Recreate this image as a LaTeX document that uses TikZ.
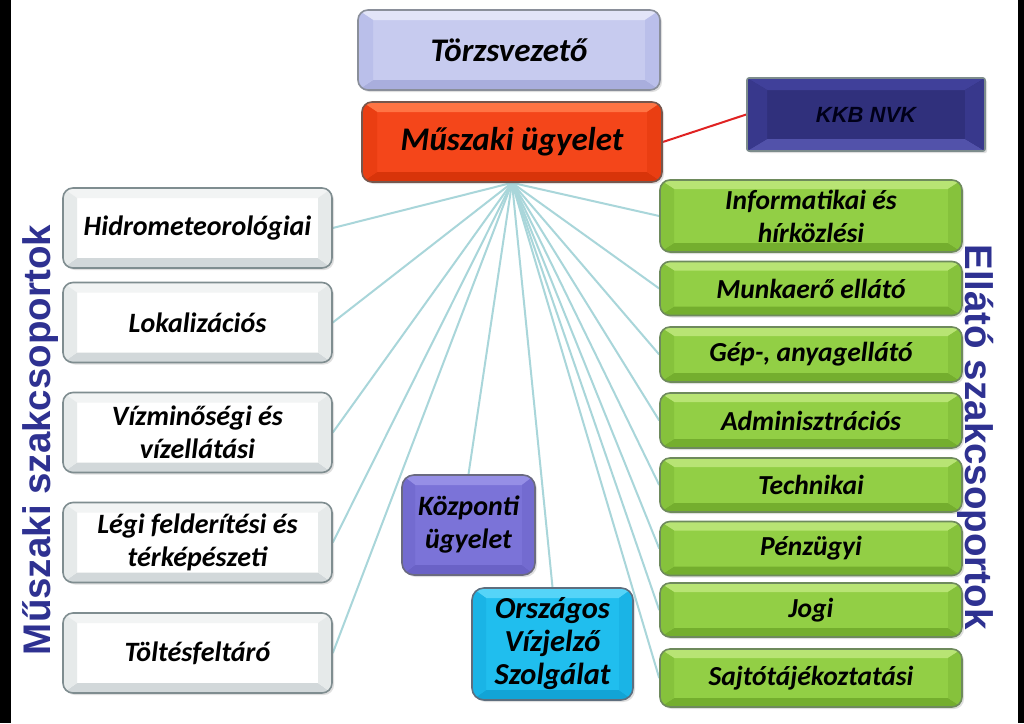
\documentclass[tikz,border=0pt]{standalone}
\usepackage{fontspec}
\setmainfont{Carlito}
\newfontfamily\arialfont{Liberation Sans}
\usetikzlibrary{backgrounds,shadows}

\definecolor{fanline}{HTML}{A9D6DA}
\definecolor{sideblue}{HTML}{2E3191}
\definecolor{wFill}{HTML}{FFFFFF}
\definecolor{wTop}{HTML}{F2F4F4}
\definecolor{wBot}{HTML}{D2D8DA}
\definecolor{wSide}{HTML}{E6EAEA}
\definecolor{wBorder}{HTML}{7F8D90}
\definecolor{gFill}{HTML}{92CF45}
\definecolor{gTop}{HTML}{B8E474}
\definecolor{gBot}{HTML}{74AE2E}
\definecolor{gSide}{HTML}{86C23C}
\definecolor{gBorder}{HTML}{6E8A5C}
\definecolor{lFill}{HTML}{C7CBEF}
\definecolor{lTop}{HTML}{E2E4F8}
\definecolor{lBot}{HTML}{A9AEDD}
\definecolor{lSide}{HTML}{BABFEA}
\definecolor{lBorder}{HTML}{8A8F9A}
\definecolor{rFill}{HTML}{F4461A}
\definecolor{rTop}{HTML}{FF7444}
\definecolor{rBot}{HTML}{D8340A}
\definecolor{rSide}{HTML}{EA3E12}
\definecolor{rBorder}{HTML}{76564C}
\definecolor{nFill}{HTML}{30307C}
\definecolor{nTop}{HTML}{40409A}
\definecolor{nBot}{HTML}{5252AA}
\definecolor{nSide}{HTML}{38388C}
\definecolor{nBorder}{HTML}{7D8C8C}
\definecolor{pFill}{HTML}{7B73D8}
\definecolor{pTop}{HTML}{968FE6}
\definecolor{pBot}{HTML}{6A62C6}
\definecolor{pSide}{HTML}{736BD0}
\definecolor{pBorder}{HTML}{6A6A80}
\definecolor{cFill}{HTML}{20BEEE}
\definecolor{cTop}{HTML}{55D4F8}
\definecolor{cBot}{HTML}{12A4D6}
\definecolor{cSide}{HTML}{1AB4E6}
\definecolor{cBorder}{HTML}{5E6E7E}
\definecolor{redline}{HTML}{E02222}

\tikzset{
  bevel/.style n args={7}{% fill, top, bottom, side, border, dx, dy
    draw=#5, line width=1.6pt, fill=#1,
    drop shadow={shadow xshift=2pt, shadow yshift=-2pt, opacity=0.25},
    path picture={
      \fill[#2, sharp corners] (path picture bounding box.north west) -- (path picture bounding box.north east)
        -- ([xshift=-#6,yshift=-#7]path picture bounding box.north east)
        -- ([xshift=#6,yshift=-#7]path picture bounding box.north west) -- cycle;
      \fill[#3, sharp corners] (path picture bounding box.south west) -- (path picture bounding box.south east)
        -- ([xshift=-#6,yshift=#7]path picture bounding box.south east)
        -- ([xshift=#6,yshift=#7]path picture bounding box.south west) -- cycle;
      \fill[#4, sharp corners] (path picture bounding box.north west) -- ([xshift=#6,yshift=-#7]path picture bounding box.north west)
        -- ([xshift=#6,yshift=#7]path picture bounding box.south west) -- (path picture bounding box.south west) -- cycle;
      \fill[#4, sharp corners] (path picture bounding box.north east) -- ([xshift=-#6,yshift=-#7]path picture bounding box.north east)
        -- ([xshift=-#6,yshift=#7]path picture bounding box.south east) -- (path picture bounding box.south east) -- cycle;
    }},
  txt/.style={font=\bfseries\itshape\fontsize{28}{33}\selectfont, align=center, text=black, inner sep=0pt},
  whitebox/.style={bevel={wFill}{wTop}{wBot}{wSide}{wBorder}{14pt}{10pt}, rounded corners=10pt, txt,
     minimum width=269pt, minimum height=80pt},
  greenbox/.style={bevel={gFill}{gTop}{gBot}{gSide}{gBorder}{14pt}{9pt}, rounded corners=10pt, txt,
     font=\bfseries\itshape\fontsize{27.5}{33}\selectfont, minimum width=302pt},
  fan/.style={draw=fanline, line width=2pt},
  sidelabel/.style={font=\arialfont\bfseries\fontsize{38.5}{40}\selectfont, text=sideblue, inner sep=0pt, anchor=base}
}

\begin{document}
\begin{tikzpicture}[x=1pt,y=-1pt]
\useasboundingbox (0,0) rectangle (1024,723);

% top boxes
\node[bevel={lFill}{lTop}{lBot}{lSide}{lBorder}{15pt}{10pt}, rounded corners=10pt, txt,
  font=\bfseries\itshape\fontsize{33}{36}\selectfont, minimum width=302pt, minimum height=80pt]
  (torzs) at (509,50) {Törzsvezető};
\node[bevel={rFill}{rTop}{rBot}{rSide}{rBorder}{15pt}{10pt}, rounded corners=10pt, txt,
  font=\bfseries\itshape\fontsize{33}{36}\selectfont, minimum width=300pt, minimum height=80pt]
  (mu) at (512,142) {Műszaki ügyelet};
\node[bevel={nFill}{nTop}{nBot}{nSide}{nBorder}{20pt}{12pt}, rounded corners=2pt,
  font=\arialfont\bfseries\itshape\fontsize{22}{24}\selectfont, text=black!90!blue,
  minimum width=238pt, minimum height=73pt, inner sep=0pt]
  (kkb) at (866,114.5) {KKB NVK};

% left boxes
\node[whitebox] (hid) at (197.5,228) {Hidrometeorológiai};
\node[whitebox] (lok) at (197.5,322.5) {Lokalizációs};
\node[whitebox] (viz) at (197.5,432.5) {Vízminőségi és\\vízellátási};
\node[whitebox] (leg) at (197.5,542.5) {Légi felderítési és\\térképészeti};
\node[whitebox] (tol) at (197.5,653) {Töltésfeltáró};

% right boxes
\node[greenbox, minimum height=72pt] (inf) at (811,216) {Informatikai és\\hírközlési};
\node[greenbox, minimum height=54pt] (mun) at (811,288.5) {Munkaerő ellátó};
\node[greenbox, minimum height=55pt] (gep) at (811,354.5) {Gép-, anyagellátó};
\node[greenbox, minimum height=55pt] (adm) at (811,420.5) {Adminisztrációs};
\node[greenbox, minimum height=54pt] (tec) at (811,485) {Technikai};
\node[greenbox, minimum height=54pt] (pen) at (811,548.5) {Pénzügyi};
\node[greenbox, minimum height=54pt] (jog) at (811,610) {Jogi};
\node[greenbox, minimum height=58pt] (saj) at (811,678) {Sajtótájékoztatási};

% central boxes
\node[bevel={pFill}{pTop}{pBot}{pSide}{pBorder}{13pt}{10pt}, rounded corners=12pt, txt,
  font=\bfseries\itshape\fontsize{28}{33}\selectfont, minimum width=133pt, minimum height=100pt]
  (koz) at (468.5,525) {Központi\\ügyelet};
\node[bevel={cFill}{cTop}{cBot}{cSide}{cBorder}{14pt}{10pt}, rounded corners=12pt, txt,
  font=\bfseries\itshape\fontsize{30.5}{33}\selectfont, minimum width=161pt, minimum height=112pt]
  (orsz) at (552.5,644) {Országos\\Vízjelző\\Szolgálat};

% side labels
\node[sidelabel, rotate=90] (lbl) at (50,440) {Műszaki szakcsoportok};
\node[sidelabel, rotate=-90] (rbl) at (965,437) {Ellátó szakcsoportok};

\begin{scope}[on background layer]
  \fill[white] (0,0) rectangle (1024,723);
  \fill[black] (0,0) rectangle (11,723);
  \fill[black] (1018,0) rectangle (1024,723);
  \foreach \t in {hid,lok,viz,leg,tol}{\draw[fan] (mu.south) -- (\t.east);}
  \foreach \t in {inf,mun,gep,adm,tec,pen,jog,saj}{\draw[fan] (mu.south) -- (\t.west);}
  \draw[fan] (mu.south) -- (koz.north);
  \draw[fan] (mu.south) -- (orsz.north);
  \draw[redline, line width=2pt] (mu.east) -- (kkb.west);
\end{scope}
\end{tikzpicture}
\end{document}
